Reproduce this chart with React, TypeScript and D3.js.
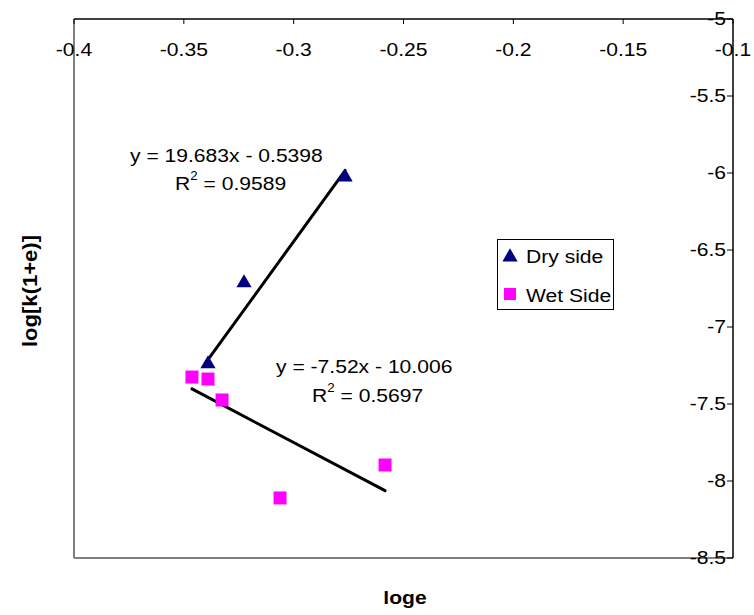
import React from "react";
import * as d3 from "d3";

const dryX = [-0.339, -0.3226, -0.2766];
const dryY = [-7.24, -6.714, -6.026];
const wetX = [-0.3463, -0.339, -0.3326, -0.3062, -0.2584];
const wetY = [-7.325, -7.338, -7.474, -8.11, -7.896];
const dryFit = { slope: 19.683, intercept: -0.5398 };
const wetFit = { slope: -7.52, intercept: -10.006 };
const xTicks = [-0.4, -0.35, -0.3, -0.25, -0.2, -0.15, -0.1];
const yTicks = [-5, -5.5, -6, -6.5, -7, -7.5, -8, -8.5];

const W = 754, H = 615;
const L = 74, R = 733, T = 19, B = 558;
const FS = 19;
const SX = 1.11;
const FONT = "Liberation Sans, Arial, sans-serif";

function T2(props: any) {
  const { x, y, anchor = "middle", size = FS, weight = "normal", children } = props;
  return (
    <text transform={`translate(${x},${y}) scale(${SX},1)`} textAnchor={anchor} dominantBaseline="central" fontSize={size} fontWeight={weight} fontFamily={FONT} fill="#000">
      {children}
    </text>
  );
}

function R2(props: any) {
  const { x, y, value } = props;
  return (
    <text transform={`translate(${x},${y}) scale(${SX},1)`} dominantBaseline="central" fontSize={FS} fontFamily={FONT} fill="#000">
      R<tspan dy={-7} fontSize={12}>2</tspan><tspan dy={7}>{" = " + value}</tspan>
    </text>
  );
}

export default function App() {
  const x = d3.scaleLinear().domain([-0.4, -0.1]).range([L, R]);
  const y = d3.scaleLinear().domain([-8.5, -5]).range([B, T]);
  const tri = d3.symbol().type(d3.symbolTriangle).size(100);
  const fitLine = (xs: number[], f: { slope: number; intercept: number }) => {
    const x0 = d3.min(xs)!, x1 = d3.max(xs)!;
    return d3.line()([[x(x0), y(f.slope * x0 + f.intercept)], [x(x1), y(f.slope * x1 + f.intercept)]])!;
  };
  const sq = 13;
  return (
    <svg width={W} height={H} style={{ position: "absolute", left: 0, top: 0, display: "block", background: "#fff" }}>
      <rect x={0} y={0} width={W} height={H} fill="#fff" />
      <line x1={L} y1={T} x2={L} y2={B} stroke="#808080" strokeWidth={2} />
      <line x1={L} y1={B} x2={R} y2={B} stroke="#808080" strokeWidth={2} />
      <line x1={L} y1={T} x2={R} y2={T} stroke="#000" strokeWidth={1.5} />
      {xTicks.map((t) => (
        <g key={"xt" + t}>
          <line x1={x(t)} y1={T} x2={x(t)} y2={T + 5} stroke="#000" strokeWidth={1} />
          <T2 x={x(t)} y={T + 30}>{String(t)}</T2>
        </g>
      ))}
      <line x1={R} y1={T} x2={R} y2={B} stroke="#000" strokeWidth={1.5} />
      {yTicks.map((t) => (
        <g key={"yt" + t}>
          <line x1={R - 6} y1={y(t)} x2={R} y2={y(t)} stroke="#000" strokeWidth={1} />
          <T2 x={R - 7} y={y(t) - 1} anchor="end">{String(t)}</T2>
        </g>
      ))}
      <path d={fitLine(dryX, dryFit)} stroke="#000" strokeWidth={3} fill="none" strokeLinecap="round" />
      <path d={fitLine(wetX, wetFit)} stroke="#000" strokeWidth={3} fill="none" strokeLinecap="round" />
      {wetX.map((v, i) => (
        <rect key={"w" + i} x={x(v) - sq / 2} y={y(wetY[i]) - sq / 2} width={sq} height={sq} fill="#ff00ff" />
      ))}
      {dryX.map((v, i) => (
        <path key={"d" + i} d={tri()!} transform={`translate(${x(v)},${y(dryY[i])})`} fill="#000080" />
      ))}
      <T2 x={130} y={155} anchor="start">y = 19.683x - 0.5398</T2>
      <R2 x={175} y={183} value="0.9589" />
      <T2 x={276} y={366} anchor="start">y = -7.52x - 10.006</T2>
      <R2 x={312} y={395} value="0.5697" />
      <rect x={497.5} y={239.5} width={116} height={70} fill="#fff" stroke="#000" strokeWidth={1} />
      <path d={tri()!} transform={`translate(510,257)`} fill="#000080" />
      <rect x={504} y={288} width={12} height={12} fill="#ff00ff" />
      <T2 x={526} y={256} anchor="start">Dry side</T2>
      <T2 x={526} y={295} anchor="start">Wet Side</T2>
      <T2 x={405} y={597} weight="bold">loge</T2>
      <text transform={`translate(30,291) rotate(-90) scale(1.05,1)`} textAnchor="middle" dominantBaseline="central" fontSize={21} fontWeight="bold" fontFamily={FONT} fill="#000">
        log[k(1+e)]
      </text>
    </svg>
  );
}
